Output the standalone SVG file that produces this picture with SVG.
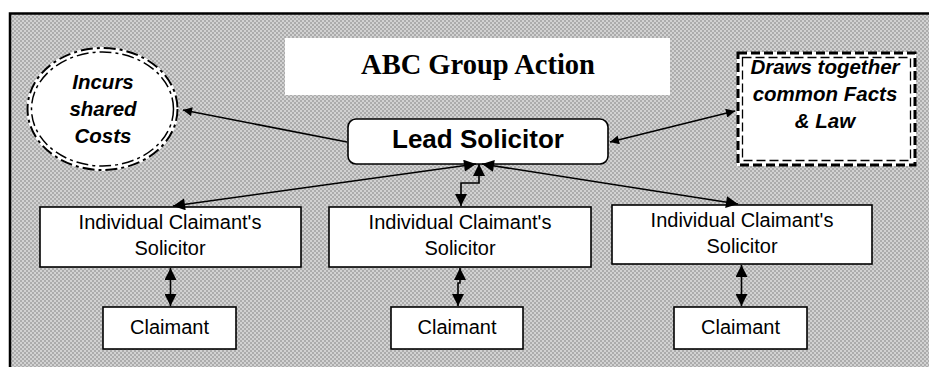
<svg xmlns="http://www.w3.org/2000/svg" width="929" height="367" viewBox="0 0 929 367">
<defs>
<pattern id="hatch" width="4" height="4" patternUnits="userSpaceOnUse">
<rect width="4" height="4" fill="#d2d2d2"/>
<rect width="2" height="2" fill="#acacac"/>
<rect x="2" y="2" width="2" height="2" fill="#acacac"/>
</pattern>
<marker id="ah" viewBox="0 0 10 10" refX="10" refY="5" markerWidth="12" markerHeight="9" markerUnits="userSpaceOnUse" orient="auto-start-reverse">
<path d="M0,0 L10,5 L0,10 z" fill="#000"/>
</marker>
<marker id="ahb" viewBox="0 0 10 10" refX="10" refY="5" markerWidth="13" markerHeight="12" markerUnits="userSpaceOnUse" orient="auto-start-reverse">
<path d="M0,0 L10,5 L0,10 z" fill="#000"/>
</marker>
</defs>
<style>
.box{fill:#fff;stroke:#000;stroke-width:1.6}
.reg{font-family:"Liberation Sans",Arial,sans-serif;font-size:20px;fill:#000;text-anchor:middle}
.bi{font-family:"Liberation Sans",Arial,sans-serif;font-size:20.5px;font-weight:bold;font-style:italic;fill:#000;text-anchor:middle}
.ln{stroke:#000;stroke-width:1.6;fill:none}
</style>
<rect x="0" y="0" width="929" height="367" fill="#fff"/>
<rect x="10" y="13" width="919" height="354" fill="url(#hatch)"/>
<path d="M10,367 V13.5 H929" fill="none" stroke="#000" stroke-width="2.5"/>

<g id="title">
<rect x="285" y="38" width="385" height="57" fill="#fff"/>
<text x="478" y="74" font-family="'Liberation Serif','Times New Roman',serif" font-size="28.5" font-weight="bold" text-anchor="middle">ABC Group Action</text>
</g>

<g id="costs">
<ellipse cx="102.5" cy="109" rx="76" ry="62" fill="#fff"/>
<ellipse cx="102.5" cy="109" rx="75" ry="61" fill="none" stroke="#000" stroke-width="2" stroke-dasharray="12 4 3 4"/>
<ellipse cx="102.5" cy="109" rx="71" ry="57" fill="none" stroke="#000" stroke-width="1.5" stroke-dasharray="12 4 3 4"/>
<text class="bi" x="103" y="89">Incurs</text>
<text class="bi" x="103" y="116">shared</text>
<text class="bi" x="103" y="143">Costs</text>
</g>

<g id="facts">
<rect x="737" y="52" width="179" height="114" fill="#fff"/>
<rect x="738" y="53" width="177" height="112" fill="none" stroke="#000" stroke-width="3" stroke-dasharray="9 4"/>
<rect x="742.5" y="57.5" width="168" height="103" fill="none" stroke="#000" stroke-width="1.3" stroke-dasharray="9 4"/>
<text class="bi" x="825" y="74">Draws together</text>
<text class="bi" x="825" y="101">common Facts</text>
<text class="bi" x="825" y="128">&amp; Law</text>
</g>

<g id="lead">
<rect x="348" y="119" width="260" height="45" rx="8" ry="8" class="box"/>
<text x="478" y="148" font-family="'Liberation Sans',Arial,sans-serif" font-size="26" font-weight="bold" text-anchor="middle">Lead Solicitor</text>
</g>

<g id="sol1">
<rect x="40" y="207" width="261" height="60" class="box"/>
<text class="reg" x="170" y="229">Individual Claimant's</text>
<text class="reg" x="170" y="255">Solicitor</text>
</g>
<g id="sol2">
<rect x="329" y="207" width="262" height="60" class="box"/>
<text class="reg" x="460" y="229">Individual Claimant's</text>
<text class="reg" x="460" y="255">Solicitor</text>
</g>
<g id="sol3">
<rect x="612" y="205" width="260" height="59" class="box"/>
<text class="reg" x="742" y="227">Individual Claimant's</text>
<text class="reg" x="742" y="253">Solicitor</text>
</g>

<g id="cl1">
<rect x="103" y="307" width="133" height="42" class="box"/>
<text class="reg" x="169.5" y="334">Claimant</text>
</g>
<g id="cl2">
<rect x="391" y="307" width="132" height="42" class="box"/>
<text class="reg" x="457" y="334">Claimant</text>
</g>
<g id="cl3">
<rect x="674" y="307" width="133" height="42" class="box"/>
<text class="reg" x="740.5" y="334">Claimant</text>
</g>

<g id="connectors">
<line class="ln" x1="347" y1="142" x2="183" y2="110" marker-end="url(#ah)"/>
<line class="ln" x1="610" y1="142" x2="735" y2="111" marker-start="url(#ah)" marker-end="url(#ah)"/>
<line class="ln" x1="476" y1="164" x2="173" y2="206" marker-start="url(#ahb)" marker-end="url(#ahb)"/>
<line class="ln" x1="482" y1="164" x2="738" y2="204" marker-start="url(#ahb)" marker-end="url(#ahb)"/>
<path class="ln" d="M479,164 V183 H461 V206" marker-start="url(#ahb)" marker-end="url(#ahb)"/>
<line class="ln" x1="170.5" y1="268" x2="170.5" y2="306" marker-start="url(#ahb)" marker-end="url(#ahb)"/>
<path class="ln" d="M460,268 V283 H458 V306" marker-start="url(#ahb)" marker-end="url(#ahb)"/>
<line class="ln" x1="741.5" y1="265" x2="741.5" y2="306" marker-start="url(#ahb)" marker-end="url(#ahb)"/>
</g>
</svg>
